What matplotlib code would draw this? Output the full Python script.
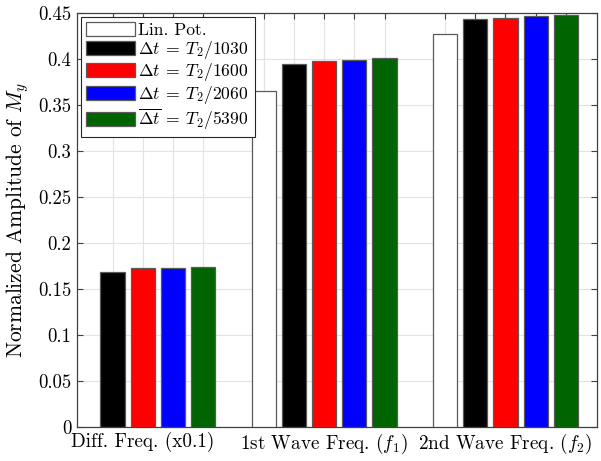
import numpy as np
import matplotlib
matplotlib.use("Agg")
import matplotlib.pyplot as plt

plt.rcParams["font.family"] = "serif"
plt.rcParams["font.serif"] = ["cmr10", "DejaVu Serif"]
plt.rcParams["mathtext.fontset"] = "cm"
plt.rcParams["axes.formatter.use_mathtext"] = True

groups = ["Diff. Freq. (x0.1)", r"1st Wave Freq. $(f_1)$", r"2nd Wave Freq. $(f_2)$"]
series_labels = [
    "Lin. Pot.",
    r"$\Delta t\:=\:T_2/1030$",
    r"$\Delta t\:=\:T_2/1600$",
    r"$\Delta t\:=\:T_2/2060$",
    r"$\overline{\Delta t}\:=\:T_2/5390$",
]
series_colors = ["#ffffff", "#000000", "#ff0000", "#0000ff", "#006400"]

# amplitudes per series, one value per group (NaN = not computed)
lin_pot = [np.nan, 0.365, 0.427]
dt_1030 = [0.168, 0.394, 0.4435]
dt_1600 = [0.172, 0.398, 0.4445]
dt_2060 = [0.1725, 0.399, 0.4462]
dt_5390 = [0.1732, 0.401, 0.4470]
series_values = [lin_pot, dt_1030, dt_1600, dt_2060, dt_5390]

yticks = [0, 0.05, 0.1, 0.15, 0.2, 0.25, 0.3, 0.35, 0.4, 0.45]
ytick_labels = ["0", "0.05", "0.1", "0.15", "0.2", "0.25", "0.3", "0.35", "0.4", "0.45"]

n_series = len(series_values)
group_stride = n_series + 1

fig = plt.figure(figsize=(6.01, 4.61), dpi=100)
ax = fig.add_axes([0.128, 0.0744, 0.8653, 0.8981])

tick_pos = []
handles = []
for s, (vals, col, lab) in enumerate(zip(series_values, series_colors, series_labels)):
    x = np.arange(len(groups)) * group_stride + s
    v = np.array(vals, dtype=float)
    ok = ~np.isnan(v)
    h = ax.bar(x[ok], v[ok], width=0.8, color=col, edgecolor="#5a5a5a",
               linewidth=0.9, label=lab, zorder=3)
    handles.append(h)
    tick_pos.extend(x[ok].tolist())

tick_pos = sorted(tick_pos)
centers = [g * group_stride + (n_series - 1) / 2 for g in range(len(groups))]
xt_labels = []
for t in tick_pos:
    lab = ""
    for c, g in zip(centers, groups):
        if abs(t - c) < 1e-9:
            lab = g
    xt_labels.append(lab)

ax.set_xticks(tick_pos)
ax.set_xticklabels(xt_labels, fontsize=13.8)
ax.set_yticks(yticks)
ax.set_yticklabels(ytick_labels, fontsize=13.5)
ax.set_xlim(-0.18, 17.03)
ax.set_ylim(0, 0.45)

ax.grid(True, color="#e3e3e3", linewidth=0.8, zorder=0)
ax.set_axisbelow(True)
ax.tick_params(direction="in", top=True, right=True, length=4, width=0.8,
               color="#404040", pad=4)
for sp in ax.spines.values():
    sp.set_color("#404040")
    sp.set_linewidth(0.9)

ax.set_ylabel(r"Normalized Amplitude of $M_y$", fontsize=15.5, labelpad=5)

leg = ax.legend(handles=handles, loc="upper left", fontsize=12.7,
                handlelength=2.75, handleheight=0.85, handletextpad=0.2,
                labelspacing=0.03, borderpad=0.32, borderaxespad=0.22,
                fancybox=False, framealpha=1)
leg.get_frame().set_edgecolor("#262626")
leg.get_frame().set_linewidth(0.8)

fig.savefig("out.png", dpi=100)
